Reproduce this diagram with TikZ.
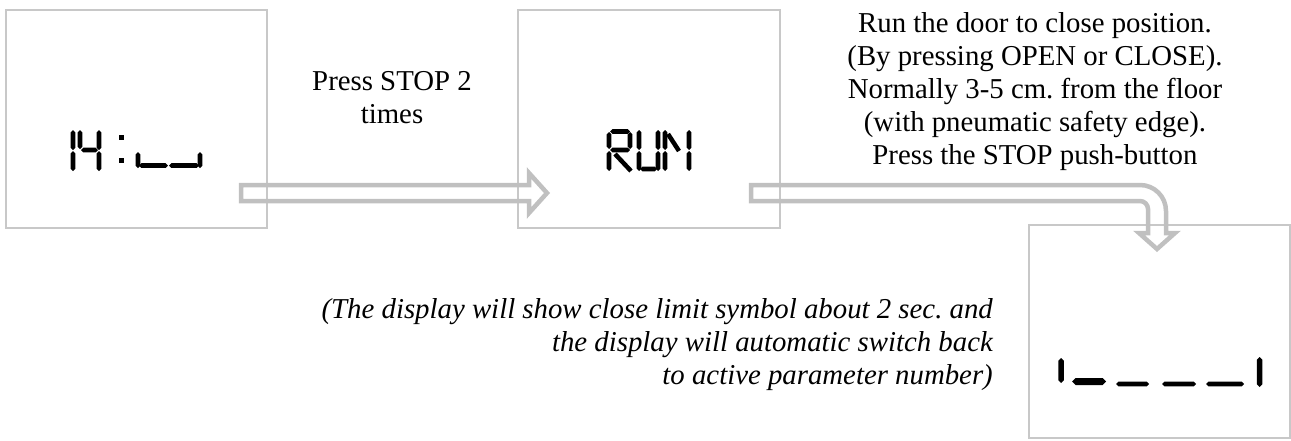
\documentclass[tikz,border=0pt]{standalone}
\usepackage{fontspec}
\setmainfont{Liberation Serif}
\usetikzlibrary{calc}
\definecolor{framegray}{RGB}{200,200,200}
\definecolor{arrowgray}{RGB}{192,192,192}
\tikzset{
  lcdframe/.style={draw=framegray, line width=2pt, inner sep=0pt},
  blockarrow/.style={draw=arrowgray, line width=4.5pt, line join=miter},
  seg/.style={line width=4.5pt, line cap=butt},
  note/.style={inner sep=0pt, font=\fontsize{28.8}{33.1}\selectfont\frenchspacing},
}
% LCD segments with pointed ends: [thickness]{x1}{x2}{y} and [thickness]{x}{y1}{y2}
\newcommand\hsegment[4][4.6]{%
  \fill (#2,#4) -- (#2+#1/2,#4-#1/2) -- (#3-#1/2,#4-#1/2) -- (#3,#4)
        -- (#3-#1/2,#4+#1/2) -- (#2+#1/2,#4+#1/2) -- cycle;}
\newcommand\vsegment[4][4.6]{%
  \fill (#2,#3) -- (#2+#1/2,#3+#1/2) -- (#2+#1/2,#4-#1/2) -- (#2,#4)
        -- (#2-#1/2,#4-#1/2) -- (#2-#1/2,#3+#1/2) -- cycle;}
\begin{document}
\begin{tikzpicture}[x=1pt, y=-1pt]
  \useasboundingbox (0,0) rectangle (1291,440);

  % display frames
  \node[lcdframe, minimum width=261pt, minimum height=218pt] (d1) at (136.5,119) {};
  \node[lcdframe, minimum width=262pt, minimum height=218pt] (d2) at (649,119) {};
  \node[lcdframe, minimum width=261pt, minimum height=213pt] (d3) at (1159.5,331.5) {};

  % straight hollow arrow between the first two displays
  \coordinate (a1s) at ($(d1.south east)+(-27,-36)$);
  \coordinate (a1e) at ($(d2.south west)+(30,-36)$);
  \draw[blockarrow]
    ($(a1s)+(0,-8)$) -- ($(a1e)+(-18,-8)$) -- ($(a1e)+(-18,-20)$) -- (a1e)
    -- ($(a1e)+(-18,20)$) -- ($(a1e)+(-18,8)$) -- ($(a1s)+(0,8)$) -- cycle;

  % bent hollow arrow down to the third display
  \coordinate (a2s) at ($(d2.south east)+(-30,-36)$);
  \coordinate (a2e) at ($(d3.north)+(-2.5,25)$);
  \coordinate (a2c) at (a2e |- a2s);
  \draw[blockarrow]
    ($(a2s)+(0,-8)$) -- ($(a2c)+(-17,-8)$)
    .. controls ($(a2c)+(-2.6,-8)$) and ($(a2c)+(9,3.6)$) .. ($(a2c)+(9,18)$)
    -- ($(a2e)+(9,-16)$) -- ($(a2e)+(18,-16)$) -- (a2e)
    -- ($(a2e)+(-18,-16)$) -- ($(a2e)+(-9,-16)$) -- ($(a2c)+(-9,16)$)
    .. controls ($(a2c)+(-9,11.6)$) and ($(a2c)+(-12.6,8)$) .. ($(a2c)+(-17,8)$)
    -- ($(a2s)+(0,8)$) -- cycle;

  % captions
  \node[note, anchor=base] (t1) at (392,90)
    {\begin{tabular}[t]{@{}c@{}}Press STOP 2\\times\end{tabular}};
  \node[note, anchor=base] (t2) at (1035,32)
    {\begin{tabular}[t]{@{}c@{}}Run the door to close position.\\
      (By pressing OPEN or CLOSE).\\
      Normally 3-5 cm. from the floor\\
      (with pneumatic safety edge).\\
      Press the STOP push-button\end{tabular}};
  \node[note, anchor=base east, font=\fontsize{28.8}{33.1}\selectfont\frenchspacing\itshape] (t3) at (993,318)
    {\begin{tabular}[t]{@{}r@{}}(The display will show close limit symbol about 2 sec. and\\
      the display will automatic switch back\\
      to active parameter number)\end{tabular}};

  % segment readout "14:" with two lower digit halves
  \vsegment{73}{130}{150}
  \vsegment{73}{151}{171}
  \vsegment{80}{130}{149}
  \hsegment{81}{98}{150}
  \vsegment{99}{130}{150}
  \vsegment{99}{151}{171}
  \fill (119,135) rectangle (124,140);
  \fill (119,158) rectangle (124,163);
  \vsegment{138}{152}{168}
  \hsegment{139}{168}{165.5}
  \hsegment{169}{199}{165.5}
  \vsegment{200}{152}{168}

  % segment readout "RUN"
  \hsegment{610}{630}{131.5}
  \vsegment{609}{132}{149}
  \vsegment{630}{132}{149}
  \hsegment{610}{630}{150}
  \vsegment{609}{151}{171}
  \draw[seg] (615,154) -- (631,171);
  \vsegment{639}{130}{150}
  \vsegment{639}{151}{171}
  \vsegment{658}{130}{150}
  \vsegment{658}{151}{171}
  \hsegment{640}{657}{169}
  \vsegment{665}{130}{150}
  \vsegment{665}{151}{171}
  \vsegment{689}{130}{150}
  \vsegment{689}{151}{171}
  \draw[seg] (668,134) -- (679,151);

  % segment readout: close limit symbol
  \vsegment[5.5]{1061}{358}{383}
  \hsegment[7]{1072}{1106}{381.5}
  \hsegment{1116}{1149}{384}
  \hsegment{1162}{1196}{384}
  \hsegment{1206}{1244}{384}
  \vsegment[5.5]{1259.5}{357}{387}
\end{tikzpicture}
\end{document}
